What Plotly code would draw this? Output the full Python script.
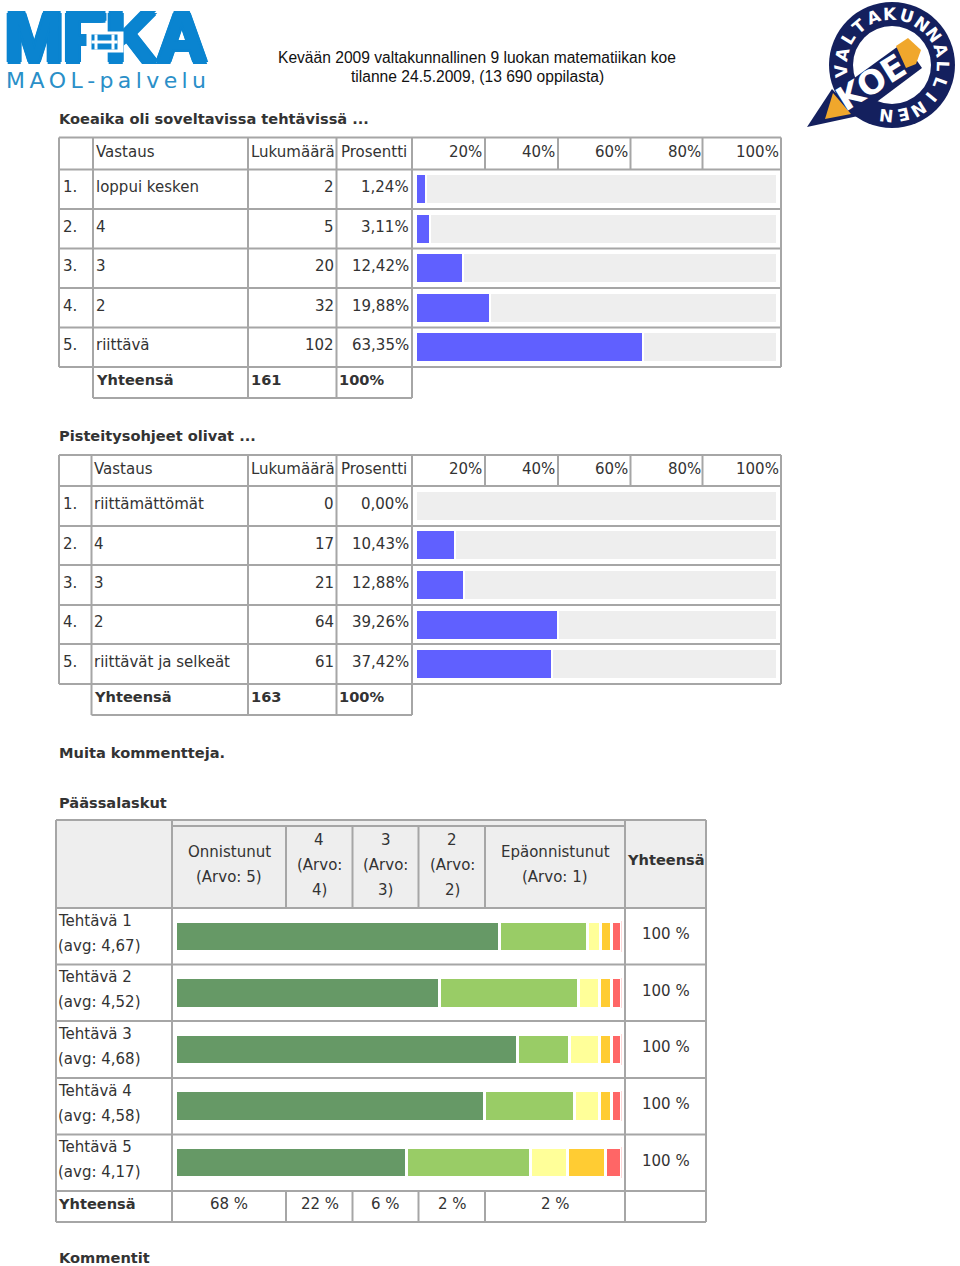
#!/usr/bin/python
# coding:utf-8
import math
import plotly.graph_objects as go

W = 960
H = 1266
FONT = 'DejaVu Sans'
TEXT_COLOR = '#333333'
LINE_COLOR = '#a6a6a6'
BOLD_SIZE = 14.6

HEADER_TOP = ['Kevään 2009 valtakunnallinen 9 luokan matematiikan koe',
              'tilanne 24.5.2009, (13 690 oppilasta)']
PCT_TICKS = ['20%', '40%', '60%', '80%', '100%']

# first table
T1_TITLE = 'Koeaika oli soveltavissa tehtävissä ...'
T1_ANSWERS = ['loppui kesken', '4', '3', '2', 'riittävä']
T1_COUNTS = [2, 5, 20, 32, 102]
T1_PCT = ['1,24%', '3,11%', '12,42%', '19,88%', '63,35%']
T1_BARS = [2.8, 3.9, 13.0, 20.4, 62.9]  # drawn length
T1_TOTAL = '161'

# second table
T2_TITLE = 'Pisteitysohjeet olivat ...'
T2_ANSWERS = ['riittämättömät', '4', '3', '2', 'riittävät ja selkeät']
T2_COUNTS = [0, 17, 21, 64, 61]
T2_PCT = ['0,00%', '10,43%', '12,88%', '39,26%', '37,42%']
T2_BARS = [0, 10.8, 13.3, 39.3, 37.7]
T2_TOTAL = '163'

# third table
T3_TITLE = 'Päässalaskut'
T3_TASKS = ['Tehtävä 1', 'Tehtävä 2', 'Tehtävä 3', 'Tehtävä 4', 'Tehtävä 5']
T3_AVG = ['(avg: 4,67)', '(avg: 4,52)', '(avg: 4,68)', '(avg: 4,58)', '(avg: 4,17)']
T3_ARVO5 = [72.7, 59.2, 76.7, 69.3, 51.9]
T3_ARVO4 = [19.6, 31.2, 11.7, 20.1, 27.8]
T3_ARVO3 = [3.0, 4.7, 6.7, 5.7, 8.3]
T3_ARVO2 = [2.5, 2.6, 2.6, 2.6, 8.4]
T3_ARVO1 = [2.2, 2.3, 2.3, 2.3, 3.6]
T3_TOTALS = ['68 %', '22 %', '6 %', '2 %', '2 %']
GREENS = ['#669966', '#99cc66', '#ffff99', '#ffcc33', '#ff6666']

shapes = []
notes = []


def fx(x):
    return x / W


def fy(y):
    return 1 - y / H


def txt(x, y, s, anchor='left', bold=False, size=15, color=TEXT_COLOR, font=FONT, angle=0, shadow=None):
    # annotations sit about a pixel inside their anchor
    if anchor == 'left':
        x -= 1.2
    elif anchor == 'right':
        x += 1
    f = dict(family=font, size=BOLD_SIZE if bold and size == 15 else size, color=color)
    if shadow:
        f['shadow'] = shadow
    notes.append(dict(x=fx(x), y=fy(y), xref='paper', yref='paper', text='<b>%s</b>' % s if bold else s,
                      showarrow=False, xanchor=anchor, yanchor='middle', textangle=angle, borderpad=0, font=f))


def block(x, y, w, h, color):
    # blank annotation used as a box, shapes can not go over annotation text
    notes.append(dict(x=fx(x), y=fy(y), xref='paper', yref='paper', text='&nbsp;', showarrow=False, width=w, height=h,
                      xanchor='center', yanchor='middle', bgcolor=color, borderpad=0, font=dict(size=8)))


def line(x0, y0, x1, y1):
    shapes.append(dict(type='line', xref='paper', yref='paper', x0=fx(x0), y0=fy(y0), x1=fx(x1), y1=fy(y1),
                       line=dict(color=LINE_COLOR, width=2), layer='below'))


def rect(x0, y0, x1, y1, color):
    shapes.append(dict(type='rect', xref='paper', yref='paper', x0=fx(x0), y0=fy(y0), x1=fx(x1), y1=fy(y1),
                       fillcolor=color, line=dict(width=0), layer='below'))


def circle(cx, cy, r, color):
    shapes.append(dict(type='circle', xref='paper', yref='paper', x0=fx(cx - r), y0=fy(cy - r), x1=fx(cx + r),
                       y1=fy(cy + r), fillcolor=color, line=dict(width=0), layer='below'))


def poly(points, color):
    d = 'M ' + ' L '.join('%f %f' % (fx(a), fy(b)) for a, b in points) + ' Z'
    shapes.append(dict(type='path', xref='paper', yref='paper', path=d, fillcolor=color,
                       line=dict(width=0), layer='above'))


def survey_table(top, left2, rows, answers, counts, pct, total, title, title_y):
    # rows: y of the row separators, first one closes the header row
    foot = rows[-1] + 31
    txt(59, title_y, title, bold=True)
    line(59, top, 781, top)
    for r in rows:
        line(59, r, 781, r)
    line(left2, foot, 412, foot)
    line(59, top, 59, rows[-1])
    line(781, top, 781, rows[-1])
    for x in [left2, 248, 336.5, 412]:
        line(x, top, x, foot)
    for x in [485, 558, 630.5, 702.5]:
        line(x, top, x, rows[0])
    text_x = left2 + 3
    txt(text_x, top + 14, 'Vastaus')
    txt(251, top + 14, 'Lukumäärä')
    txt(341, top + 14, 'Prosentti')
    for x, s in zip([482, 555, 628, 701, 779], PCT_TICKS):
        txt(x, top + 14, s, anchor='right')
    for i in range(5):
        y = (rows[i] + rows[i + 1]) / 2 - 2
        txt(63, y, '%d.' % (i + 1))
        txt(text_x, y, answers[i])
        txt(334, y, str(counts[i]), anchor='right')
        txt(408.5, y, pct[i], anchor='right')
    txt(text_x, foot - 19, 'Yhteensä', bold=True)
    txt(251, foot - 19, total, bold=True)
    txt(339, foot - 19, '100%', bold=True)


T1_ROWS = [169.5, 209, 248.5, 288, 327.5, 367]
T2_ROWS = [486, 526, 565, 605, 644, 684]

survey_table(137.5, 93, T1_ROWS, T1_ANSWERS, T1_COUNTS, T1_PCT, T1_TOTAL, T1_TITLE, 119)
survey_table(455, 91.5, T2_ROWS, T2_ANSWERS, T2_COUNTS, T2_PCT, T2_TOTAL, T2_TITLE, 435.5)

txt(59, 752.5, 'Muita kommentteja.', bold=True)
txt(59, 802.5, T3_TITLE, bold=True)
txt(59, 1257.5, 'Kommentit', bold=True)

# third table frame
T3_ROWS = [908, 964.5, 1021, 1078, 1134.5, 1191]
rect(56, 820, 706, 908, '#eeeeee')
line(56, 820, 706, 820)
line(172, 826, 625, 826)
for r in T3_ROWS:
    line(56, r, 706, r)
line(56, 1222, 706, 1222)
line(56, 820, 56, 1222)
line(172, 820, 172, 1222)
line(625, 820, 625, 1222)
line(706, 820, 706, 1222)
for x in [286, 352.5, 418.5, 485]:
    line(x, 826, x, 908)
    line(x, 1191, x, 1222)

txt(229, 852, 'Onnistunut', anchor='center')
txt(229, 877, '(Arvo: 5)', anchor='center')
for x, v in zip([319, 385.5, 452], ['4', '3', '2']):
    txt(x, 840, v, anchor='center')
    txt(x, 865, '(Arvo:', anchor='center')
    txt(x, 890, v + ')', anchor='center')
txt(555, 852, 'Epäonnistunut', anchor='center')
txt(555, 877, '(Arvo: 1)', anchor='center')
txt(666, 859.5, 'Yhteensä', anchor='center', bold=True)
for i in range(5):
    txt(58.5, T3_ROWS[i] + 12.5, T3_TASKS[i])
    txt(58.5, T3_ROWS[i] + 37.5, T3_AVG[i])
    txt(666, T3_ROWS[i] + 26, '100 %', anchor='center')
txt(58.5, 1203.5, 'Yhteensä', bold=True)
for x, s in zip([229, 319.5, 385.5, 452, 555], T3_TOTALS):
    txt(x, 1204, s, anchor='center')

# page header
txt(477, 58, HEADER_TOP[0], anchor='center', size=15.6, color='#111111', font='Liberation Sans')
txt(477, 76, HEADER_TOP[1], anchor='center', size=15.6, color='#111111', font='Liberation Sans')

# logo on the left
BLUE = '#0a84d0'
fat = ', '.join('%dpx %dpx 0 %s' % (a, b, BLUE) for a, b in
                [(2, 0), (-2, 0), (0, 2), (0, -2), (2, 2), (-2, -2), (2, -2), (-2, 2), (3, 0), (-3, 0)])
txt(106, 38, 'MFKA', anchor='center', bold=True, size=70, color=BLUE, font='Liberation Sans', shadow=fat)
block(104.5, 42, 36, 20, 'white')
block(104.5, 42, 25, 14, BLUE)
block(104.5, 42, 25, 2, 'white')
block(96, 42, 2, 14, 'white')
block(113, 42, 2, 14, 'white')
txt(106, 80, '\u2009'.join('MAOL-palvelu'), anchor='center', size=22, color='#2a8fc8')

# badge on the right
NAVY = '#14205e'
ORANGE = '#f0a72c'
cx, cy = 892, 65
poly([(807, 127), (832, 89), (858, 116)], NAVY)
poly([(833, 93), (851, 114), (825, 119)], ORANGE)
circle(cx, cy, 63, NAVY)
circle(cx, cy, 39, 'white')
poly([(846, 84), (904, 42), (922, 68), (866, 110)], NAVY)
poly([(896, 46), (908, 38), (921, 50), (916, 64), (906, 68)], ORANGE)
txt(871, 83, 'KOE', anchor='center', bold=True, size=33, color='white', angle=-32)
ring = 'VALTAKUNNALLINEN'
for i, c in enumerate(ring):
    a = -96 + i * 18.8
    rad = math.radians(a)
    txt(cx + 51 * math.sin(rad), cy - 51 * math.cos(rad), c, anchor='center', bold=True, size=17,
        color='white', angle=a)


def axes(n, x0, x1, y0, y1):
    fig.layout['xaxis%d' % n] = dict(domain=[fx(x0), fx(x1)], range=[0, 100], visible=False, fixedrange=True,
                                     anchor='y%d' % n)
    fig.layout['yaxis%d' % n] = dict(domain=[fy(y1), fy(y0)], range=[4.5, -0.5], visible=False, fixedrange=True,
                                     anchor='x%d' % n)


fig = go.Figure()
axes(1, 416, 777, 169.5, 367)
axes(2, 416, 777, 486, 684)
axes(3, 175.5, 621.5, 908, 1191)

for n, bars in [(1, T1_BARS), (2, T2_BARS)]:
    rows = list(range(5))
    fig.add_trace(go.Bar(x=bars, y=rows, orientation='h', xaxis='x%d' % n, yaxis='y%d' % n, width=0.755,
                         marker=dict(color='#6060ff', line=dict(color='white', width=2))))
    fig.add_trace(go.Bar(x=[100 - b for b in bars], y=rows, orientation='h', xaxis='x%d' % n, yaxis='y%d' % n,
                         width=0.755, marker=dict(color='#eeeeee', line=dict(color='white', width=2))))

for vals, col in zip([T3_ARVO5, T3_ARVO4, T3_ARVO3, T3_ARVO2, T3_ARVO1], GREENS):
    fig.add_trace(go.Bar(x=vals, y=list(range(5)), orientation='h', xaxis='x3', yaxis='y3', width=0.54,
                         marker=dict(color=col, line=dict(color='white', width=3))))

fig.update_layout(width=W, height=H, margin=dict(l=0, r=0, t=0, b=0), barmode='stack', showlegend=False,
                  paper_bgcolor='white', plot_bgcolor='rgba(0,0,0,0)', shapes=shapes, annotations=notes,
                  hovermode=False)

fig.write_html('out.html', post_script="document.body.style.margin='0';document.body.style.overflow='hidden';",
               config=dict(displayModeBar=False))
